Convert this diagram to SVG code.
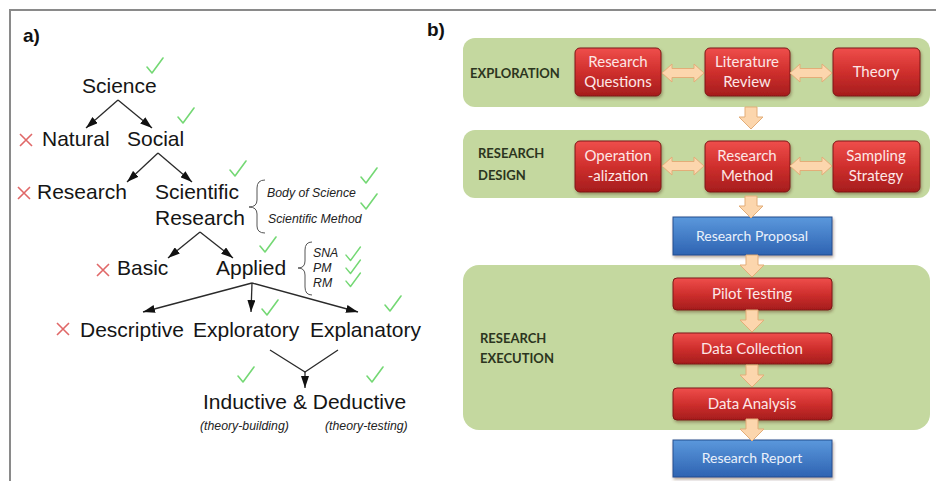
<svg xmlns="http://www.w3.org/2000/svg" xmlns:xlink="http://www.w3.org/1999/xlink" width="936" height="481" viewBox="0 0 936 481">
  <defs>
    <style>
      .tree { font-family: "Liberation Sans", Arial, sans-serif; font-size: 21px; fill: #151515; }
      .note { font-family: "Liberation Sans", Arial, sans-serif; font-style: italic; font-size: 12.3px; fill: #222; }
      .tag { font-family: "Liberation Sans", Arial, sans-serif; font-weight: bold; font-size: 19px; fill: #111; }
      .edge { stroke: #2a2a2a; stroke-width: 1.3; fill: none; }
      .brace { stroke: #555; stroke-width: 1; fill: none; }
      .tick { stroke: #74d874; stroke-width: 1.6; fill: none; stroke-linecap: round; stroke-linejoin: round; }
      .cross { stroke: #e06868; stroke-width: 1.6; fill: none; }
      .panel { fill: #c4d89f; }
      .phase { font-family: Lato, "Open Sans", sans-serif; font-weight: bold; font-size: 13px; fill: #2c3520; }
      .red { fill: url(#redGrad); stroke: #7e1616; stroke-width: 1; filter: url(#shadow); }
      .blue { fill: url(#blueGrad); stroke: #234f8e; stroke-width: 1; filter: url(#shadow); }
      .boxtext { font-family: Lato, "Open Sans", sans-serif; font-size: 15px; fill: #fde6e6; text-anchor: middle; }
      .bluetext { font-family: Lato, "Open Sans", sans-serif; font-size: 14px; fill: #eaf1fb; text-anchor: middle; }
      .flow { fill: #fcd6ad; stroke: #e3ad78; stroke-width: 1; }
    </style>
    <linearGradient id="redGrad" x1="0" y1="0" x2="0" y2="1">
      <stop offset="0" stop-color="#ef4e4b"/>
      <stop offset="0.5" stop-color="#cf2f2d"/>
      <stop offset="1" stop-color="#a51d1d"/>
    </linearGradient>
    <linearGradient id="blueGrad" x1="0" y1="0" x2="0" y2="1">
      <stop offset="0" stop-color="#5b98dc"/>
      <stop offset="1" stop-color="#2e63b2"/>
    </linearGradient>
    <filter id="shadow" x="-10%" y="-10%" width="125%" height="130%">
      <feDropShadow dx="1" dy="2" stdDeviation="1.5" flood-color="#5a3a20" flood-opacity="0.45"/>
    </filter>
    <marker id="head" viewBox="0 0 12 8" refX="12" refY="4" markerWidth="12" markerHeight="8" markerUnits="userSpaceOnUse" orient="auto">
      <path d="M0,0 L12,4 L0,8 Z" fill="#111"/>
    </marker>
    <path id="tickMark" class="tick" d="M0,9 L5,15 L16,0"/>
    <path id="crossMark" class="cross" d="M0,0 L12,12 M12,0 L0,12"/>
    <path id="dbl" class="flow" d="M0,0 L10,-9 L10,-4.5 L32,-4.5 L32,-9 L42,0 L32,9 L32,4.5 L10,4.5 L10,9 Z"/>
    <path id="down" class="flow" d="M-6,0 L6,0 L6,10 L12,10 L0,22 L-12,10 L-6,10 Z"/>
  </defs>

  <rect width="936" height="481" fill="#ffffff"/>

  <!-- frame -->
  <path d="M10,481 L10,10 L936,10" stroke="#8a8a8a" stroke-width="2" fill="none"/>

  <text class="tag" x="23" y="42">a)</text>
  <text class="tag" x="427" y="36">b)</text>

  <!-- ===== a) classification tree ===== -->
  <g id="science">
    <text class="tree" x="82" y="93">Science</text>
    <use href="#tickMark" x="147" y="58"/>
  </g>
  <g id="natural">
    <use href="#crossMark" x="20" y="134"/>
    <text class="tree" x="42" y="146">Natural</text>
  </g>
  <g id="social">
    <text class="tree" x="127" y="146">Social</text>
    <use href="#tickMark" x="178" y="108"/>
  </g>
  <g id="research">
    <use href="#crossMark" x="18" y="187"/>
    <text class="tree" x="37" y="199">Research</text>
  </g>
  <g id="scientific-research">
    <text class="tree" x="155" y="199">Scientific</text>
    <text class="tree" x="155" y="225">Research</text>
    <use href="#tickMark" x="230" y="161"/>
    <path class="brace" d="M265,180 Q257,180 257,188 L257,200 Q257,207 249,207 Q257,207 257,214 L257,226 Q257,233 265,233"/>
    <text class="note" x="267" y="197">Body of Science</text>
    <text class="note" x="268" y="223">Scientific Method</text>
    <use href="#tickMark" x="361" y="168"/>
    <use href="#tickMark" x="361" y="194"/>
  </g>
  <g id="basic">
    <use href="#crossMark" x="97" y="264"/>
    <text class="tree" x="117" y="275">Basic</text>
  </g>
  <g id="applied">
    <text class="tree" x="216" y="275">Applied</text>
    <use href="#tickMark" x="260" y="237"/>
    <path class="brace" d="M312,242 Q305,242 305,250 L305,261 Q305,268 298,268 Q305,268 305,275 L305,287 Q305,295 312,295"/>
    <text class="note" x="313" y="257" font-size="11.5">SNA</text>
    <text class="note" x="313" y="272" font-size="11.5">PM</text>
    <text class="note" x="313" y="287" font-size="11.5">RM</text>
    <use href="#tickMark" transform="translate(346 247) scale(0.9)"/>
    <use href="#tickMark" transform="translate(346 260) scale(0.9)"/>
    <use href="#tickMark" transform="translate(346 273) scale(0.9)"/>
  </g>
  <g id="descriptive">
    <use href="#crossMark" x="57" y="323"/>
    <text class="tree" x="80" y="337">Descriptive</text>
  </g>
  <g id="exploratory">
    <text class="tree" x="193" y="337">Exploratory</text>
    <use href="#tickMark" x="262" y="300"/>
  </g>
  <g id="explanatory">
    <text class="tree" x="310" y="337">Explanatory</text>
    <use href="#tickMark" x="385" y="296"/>
  </g>
  <g id="inductive-deductive">
    <use href="#tickMark" x="238" y="367"/>
    <use href="#tickMark" x="367" y="367"/>
    <text class="tree" x="203" y="409" font-size="21.5">Inductive &amp; Deductive</text>
    <text class="note" x="200" y="430">(theory-building)</text>
    <text class="note" x="325" y="430">(theory-testing)</text>
  </g>

  <!-- ===== b) research process ===== -->
  <g id="exploration">
    <rect class="panel" x="463" y="38" width="467" height="69" rx="12"/>
    <text class="phase" x="470" y="78">EXPLORATION</text>
  </g>
  <g id="research-design">
    <rect class="panel" x="463" y="130" width="467" height="68" rx="12"/>
    <text class="phase" x="478" y="158">RESEARCH</text>
    <text class="phase" x="478" y="180">DESIGN</text>
  </g>
  <g id="research-execution">
    <rect class="panel" x="463" y="265" width="467" height="165" rx="16"/>
    <text class="phase" x="480" y="343">RESEARCH</text>
    <text class="phase" x="480" y="363">EXECUTION</text>
  </g>

  <g id="research-questions">
    <rect class="red" x="575" y="48" width="86" height="48" rx="5"/>
    <text class="boxtext" x="618" y="67">Research</text>
    <text class="boxtext" x="618" y="87">Questions</text>
  </g>
  <g id="literature-review">
    <rect class="red" x="705" y="48" width="85" height="48" rx="5"/>
    <text class="boxtext" x="747" y="67">Literature</text>
    <text class="boxtext" x="747" y="87">Review</text>
  </g>
  <g id="theory">
    <rect class="red" x="833" y="48" width="87" height="48" rx="5"/>
    <text class="boxtext" x="876" y="77">Theory</text>
  </g>
  <g id="operationalization">
    <rect class="red" x="575" y="141" width="86" height="51" rx="5"/>
    <text class="boxtext" x="618" y="161">Operation</text>
    <text class="boxtext" x="618" y="181">-alization</text>
  </g>
  <g id="research-method">
    <rect class="red" x="705" y="141" width="85" height="51" rx="5"/>
    <text class="boxtext" x="747" y="161">Research</text>
    <text class="boxtext" x="747" y="181">Method</text>
  </g>
  <g id="sampling-strategy">
    <rect class="red" x="833" y="141" width="87" height="51" rx="5"/>
    <text class="boxtext" x="876" y="161">Sampling</text>
    <text class="boxtext" x="876" y="181">Strategy</text>
  </g>
  <g id="research-proposal">
    <rect class="blue" x="673" y="217" width="159" height="38"/>
    <text class="bluetext" x="752" y="241">Research Proposal</text>
  </g>
  <g id="pilot-testing">
    <rect class="red" x="673" y="278" width="159" height="32" rx="4"/>
    <text class="boxtext" x="752" y="299" font-size="14">Pilot Testing</text>
  </g>
  <g id="data-collection">
    <rect class="red" x="673" y="333" width="159" height="31" rx="4"/>
    <text class="boxtext" x="752" y="354" font-size="14">Data Collection</text>
  </g>
  <g id="data-analysis">
    <rect class="red" x="673" y="388" width="159" height="32" rx="4"/>
    <text class="boxtext" x="752" y="409" font-size="14">Data Analysis</text>
  </g>
  <g id="research-report">
    <rect class="blue" x="673" y="440" width="159" height="37"/>
    <text class="bluetext" x="752" y="463">Research Report</text>
  </g>

  <!-- connectors: tree arrows and flow arrows, drawn above the panels -->
  <g id="connectors">
    <line class="edge" x1="118" y1="100" x2="86" y2="128" marker-end="url(#head)"/>
    <line class="edge" x1="118" y1="100" x2="152" y2="128" marker-end="url(#head)"/>
    <line class="edge" x1="158" y1="153" x2="127" y2="182" marker-end="url(#head)"/>
    <line class="edge" x1="158" y1="153" x2="192" y2="182" marker-end="url(#head)"/>
    <line class="edge" x1="200" y1="232" x2="168" y2="258" marker-end="url(#head)"/>
    <line class="edge" x1="200" y1="232" x2="233" y2="258" marker-end="url(#head)"/>
    <line class="edge" x1="252" y1="283" x2="143" y2="312" marker-end="url(#head)"/>
    <line class="edge" x1="252" y1="283" x2="251" y2="312" marker-end="url(#head)"/>
    <line class="edge" x1="252" y1="283" x2="358" y2="312" marker-end="url(#head)"/>
    <polyline class="edge" points="270,350 305,372 338,350"/>
    <line class="edge" x1="305" y1="372" x2="305" y2="388" marker-end="url(#head)"/>

    <use href="#dbl" x="662" y="73"/>
    <use href="#dbl" x="790" y="73"/>
    <use href="#dbl" x="662" y="166"/>
    <use href="#dbl" x="790" y="166"/>
    <use href="#down" x="751" y="107"/>
    <use href="#down" x="751" y="196"/>
    <use href="#down" x="752" y="255"/>
    <use href="#down" x="752" y="310"/>
    <use href="#down" x="752" y="365"/>
    <use href="#down" x="752" y="419"/>
  </g>
</svg>
